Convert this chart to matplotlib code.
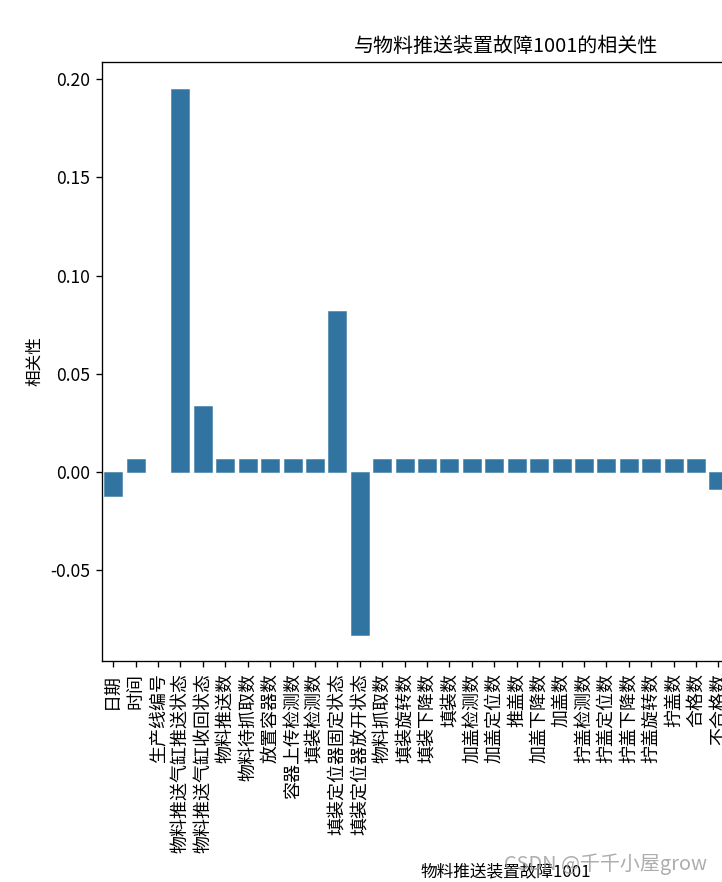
import numpy as np
import matplotlib
matplotlib.use("Agg")
import matplotlib.pyplot as plt

plt.rcParams['font.family'] = ['Noto Sans CJK SC', 'DejaVu Sans']
plt.rcParams['axes.unicode_minus'] = False

categories = ['日期', '时间', '生产线编号', '物料推送气缸推送状态', '物料推送气缸收回状态',
              '物料推送数', '物料待抓取数', '放置容器数', '容器上传检测数', '填装检测数',
              '填装定位器固定状态', '填装定位器放开状态', '物料抓取数', '填装旋转数',
              '填装下降数', '填装数', '加盖检测数', '加盖定位数', '推盖数', '加盖下降数',
              '加盖数', '拧盖检测数', '拧盖定位数', '拧盖下降数', '拧盖旋转数', '拧盖数',
              '合格数', '不合格数',
              # columns beyond the visible right edge (values not visible)
              '物料检测装置故障2001', '填装装置检测故障4001', '填装装置定位故障4002',
              '填装装置填装故障4003', '加盖装置定位故障5001', '加盖装置加盖故障5002',
              '拧盖装置定位故障6001', '拧盖装置拧盖故障6002']

values = [-0.0121, 0.0067, np.nan, 0.1949, 0.0336,
          0.0067, 0.0067, 0.0067, 0.0067, 0.0067,
          0.0819, -0.0830, 0.0067, 0.0067,
          0.0067, 0.0067, 0.0067, 0.0067, 0.0067, 0.0067,
          0.0067, 0.0067, 0.0067, 0.0067, 0.0067, 0.0067,
          0.0067, -0.0087,
          np.nan, np.nan, np.nan, np.nan, np.nan, np.nan, np.nan, np.nan]

title = '与物料推送装置故障1001的相关性'
xlabel = '物料推送装置故障1001'
ylabel = '相关性'

fig = plt.figure(figsize=(722 / 120, 882 / 120), dpi=120)
ax = fig.add_axes([102 / 722, (882 - 661) / 882, (909 - 102) / 722, (661 - 62) / 882])

x = np.arange(len(categories))
h = np.nan_to_num(np.array(values, dtype=float), nan=0.0)
mask = ~np.isnan(np.array(values, dtype=float))
ax.bar(x[mask], h[mask], width=0.8, color='#3274a1', edgecolor='#3274a1', linewidth=0.3)

ax.set_xticks(x)
ax.set_xticklabels(categories, rotation=90, fontsize=10.8)
ax.set_xlim(-0.5, len(categories) - 0.5)
ax.set_ylim(-0.0962, 0.2087)
ax.set_yticks([-0.05, 0.0, 0.05, 0.10, 0.15, 0.20])
ax.set_yticklabels(['-0.05', '0.00', '0.05', '0.10', '0.15', '0.20'], fontsize=10.5)

ax.set_title(title, fontsize=12)
ax.set_xlabel(xlabel, fontsize=10)
ax.set_ylabel(ylabel, fontsize=10)

fig.text(707 / 722, (882 - 870) / 882, 'CSDN @千千小屋grow', ha='right', va='baseline',
         fontsize=12, color='#999999', alpha=0.8)

fig.savefig('out.png', dpi=120)
